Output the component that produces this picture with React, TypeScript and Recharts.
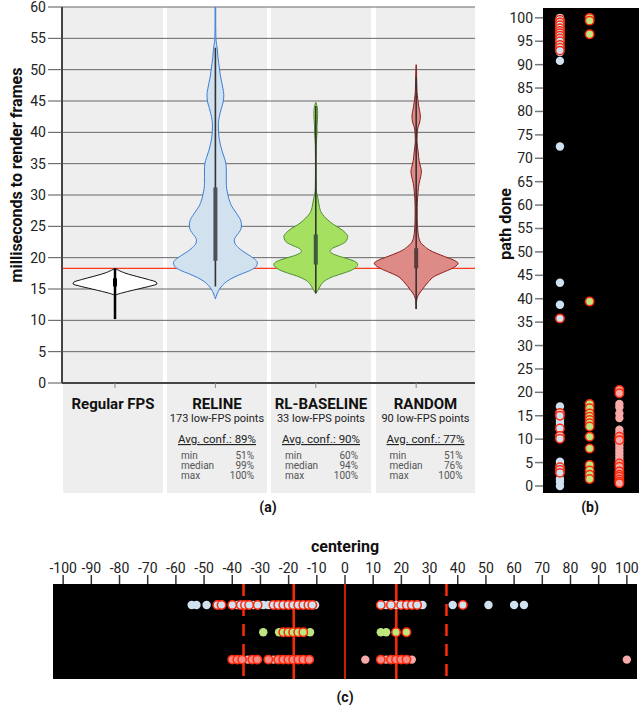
import React from "react";
import {
  ComposedChart,
  Area,
  Line,
  XAxis,
  YAxis,
  CartesianGrid,
  ScatterChart,
  Scatter,
  ReferenceLine,
} from "recharts";

// ---- (a) frame render times ----
const CATEGORIES = ["Regular FPS", "RELINE", "RL-BASELINE", "RANDOM"];
const LOW_FPS_POINTS = [null, 173, 33, 90];
const AVG_CONF = [null, 89, 90, 77];
const MIN_CONF = [null, 51, 60, 51];
const MEDIAN_CONF = [null, 99, 94, 76];
const MAX_CONF = [null, 100, 100, 100];
const MS_TICKS = [0, 5, 10, 15, 20, 25, 30, 35, 40, 45, 50, 55, 60];
const REGULAR_FPS_LIMIT = 18.3;

// violin outlines: [ms, relative density]
const VIOLIN_REGULAR = [
  [14.0, 0], [14.2, 0.08], [14.6, 0.3], [15.0, 0.55], [15.5, 0.86], [15.8, 1.0],
  [16.1, 0.98], [16.5, 0.8], [17.0, 0.52], [17.5, 0.26], [18.0, 0.08], [18.3, 0],
];
const VIOLIN_RELINE = [
  [13.4, 0], [14.2, 0.04], [15.0, 0.1], [15.6, 0.17], [16.2, 0.27], [16.8, 0.42],
  [17.4, 0.62], [18.0, 0.84], [18.6, 0.97], [19.2, 1.0], [19.8, 0.93], [20.4, 0.8],
  [21.0, 0.66], [21.6, 0.55], [22.2, 0.47], [22.8, 0.45], [23.4, 0.49], [24.0, 0.56],
  [24.6, 0.61], [25.2, 0.62], [25.8, 0.61], [26.4, 0.57], [27.0, 0.51], [27.6, 0.45],
  [28.2, 0.39], [28.8, 0.35], [29.4, 0.32], [30.0, 0.3], [31.0, 0.27], [32.0, 0.26],
  [33.0, 0.26], [34.0, 0.26], [35.0, 0.25], [36.0, 0.21], [37.0, 0.16], [38.0, 0.12],
  [39.0, 0.09], [40.0, 0.075], [41.0, 0.07], [42.0, 0.08], [43.0, 0.11], [44.0, 0.15],
  [45.0, 0.19], [46.0, 0.2], [47.0, 0.18], [48.0, 0.15], [49.0, 0.12], [50.0, 0.1],
  [51.0, 0.08], [52.0, 0.06], [53.0, 0.05], [54.0, 0.03], [55.0, 0.012], [57.0, 0.008],
  [60.0, 0.008],
];
const VIOLIN_RLBASE = [
  [14.3, 0], [14.8, 0.05], [15.4, 0.1], [15.9, 0.15], [16.5, 0.26], [17.0, 0.42],
  [17.5, 0.65], [18.0, 0.85], [18.6, 0.98], [18.9, 1.0], [19.4, 0.93], [19.9, 0.72],
  [20.4, 0.48], [21.0, 0.34], [21.5, 0.4], [22.0, 0.57], [22.6, 0.72], [23.4, 0.76],
  [24.0, 0.7], [24.7, 0.57], [25.3, 0.42], [26.0, 0.29], [26.6, 0.2], [27.1, 0.14],
  [28.0, 0.09], [28.7, 0.07], [29.5, 0.05], [30.0, 0.03], [31.0, 0.012], [33.0, 0.008],
  [36.0, 0.008], [38.0, 0.012], [39.0, 0.02], [40.0, 0.03], [41.0, 0.03], [42.0, 0.04],
  [43.0, 0.045], [44.0, 0.035], [44.5, 0.015], [44.8, 0],
];
const VIOLIN_RANDOM = [
  [11.8, 0], [13.2, 0.012], [14.0, 0.05], [14.7, 0.12], [15.4, 0.2], [16.2, 0.3],
  [17.0, 0.43], [17.6, 0.62], [18.3, 0.86], [18.8, 0.97], [19.1, 1.0], [19.6, 0.9],
  [20.2, 0.67], [20.7, 0.48], [21.2, 0.32], [21.8, 0.2], [22.3, 0.12], [23.0, 0.07],
  [23.9, 0.045], [25.0, 0.03], [26.6, 0.025], [28.0, 0.025], [29.2, 0.03], [30.5, 0.045],
  [31.9, 0.07], [33.0, 0.11], [33.8, 0.125], [34.6, 0.1], [35.5, 0.07], [36.7, 0.05],
  [37.8, 0.03], [38.8, 0.02], [39.7, 0.025], [40.7, 0.04], [41.5, 0.08], [42.6, 0.1],
  [43.5, 0.08], [44.2, 0.06], [45.2, 0.04], [46.5, 0.02], [48.4, 0.012], [50.0, 0.008],
  [50.8, 0],
];
const WHISKER_LOW = [10.2, 15.4, 14.3, 11.8];
const WHISKER_HIGH = [18.3, 53.5, 44.2, 48.8];
const BOX_LOW = [15.4, 19.5, 18.9, 18.3];
const BOX_HIGH = [16.7, 31.2, 23.7, 21.5];

// ---- (b) path done ----
const PATH_TICKS = [0, 5, 10, 15, 20, 25, 30, 35, 40, 45, 50, 55, 60, 65, 70, 75, 80, 85, 90, 95, 100];
const PATH_RELINE = [100, 94.7, 92.7, 90.8, 72.5, 43.4, 38.7, 17.0, 14.2, 13.5, 12.9, 5.2, 4.6, 1.5, 0.9, 0];
const PATH_RELINE_LOW = [99.6, 99.0, 98.4, 97.8, 97.2, 96.7, 96.2, 95.6, 95.0, 94.2, 93.6, 93.0, 35.8, 15.6, 15.0, 12.3, 10.7, 10.1, 4.0, 3.4, 2.8];
const PATH_RLBASE_LOW = [100, 99.4, 96.5, 39.4, 17.5, 16.6, 15.5, 14.8, 14.1, 13.4, 12.7, 10.5, 8.0, 4.5, 3.3, 2.4, 1.5];
const PATH_RANDOM = [17.5, 16.8, 15.5, 14.5, 12.0, 11.3, 9.1, 8.4, 7.7, 7.0, 6.3, 5.6];
const PATH_RANDOM_LOW = [20.5, 19.8, 10.5, 9.8, 4.8, 4.1, 3.1, 2.4, 2.0, 1.4, 0.9, 0.6];

// ---- (c) centering ----
const CENTER_TICKS = [-100, -90, -80, -70, -60, -50, -40, -30, -20, -10, 0, 10, 20, 30, 40, 50, 60, 70, 80, 90, 100];
const CENTER_LIMITS = [-18.2, 18.2];
const CENTER_OUTER = [-36, 36];
const CENTER_RELINE = [-54.4, -52.7, -49.1, -38.2, -32.5, -29.0, -27.2, -10.6, 14.6, 18.1, 27.5, 38.2, 50.9, 60.0, 63.5];
const CENTER_RELINE_LOW = [-45.3, -43.8, -40.0, -37.0, -35.5, -34.0, -31.0, -25.4, -23.7, -21.9, -20.1, -18.4, -16.6, -14.8, -13.0, -11.6, 12.7, 16.3, 19.9, 21.9, 23.7, 25.6, 41.8];
const CENTER_RLBASE = [-29.0, -23.4, -12.4, 12.7, 14.6];
const CENTER_RLBASE_LOW = [-21.9, -20.1, -18.4, -16.6, -14.8, 18.1, 21.8];
const CENTER_RANDOM = [-34.5, -25.4, 7.2, 14.6, 23.7, 100];
const CENTER_RANDOM_LOW = [-40.0, -38.2, -36.5, -32.9, -31.1, -27.2, -23.7, -21.9, -20.1, -18.4, -16.6, -14.8, -12.7, 12.7, 16.3, 18.1, 19.9, 21.8];

const BLUE = "#cfe2f1";
const GREEN = "#bde680";
const PINK = "#f7aaa8";
const RED = "#ff2a0a";
const VIOLIN_FILL = ["#ffffff", "#d1e1ee", "#a5e061", "#de8a86"];
const VIOLIN_STROKE = ["#111111", "#3d7dd8", "#4f8d2f", "#8b1e1e"];
const BOX_COLOR = ["#000000", "#4a535c", "#3f5a3c", "#5a3c3c"];

const BANDS = [[63, 163], [167, 267], [271, 371], [376, 475]];
const HALF = 0.418; // widest violin half-width, in column units

const violin = (shape: number[][], col: number) =>
  shape.map(([ms, d]) => ({ ms, span: [col - d * HALF, col + d * HALF] }));

function CategoryTick({ payload }: any) {
  const i = Math.round(payload.value);
  const cx = (BANDS[i][0] + BANDS[i][1]) / 2;
  const rows: [string, number | null][] = [
    ["min", MIN_CONF[i]],
    ["median", MEDIAN_CONF[i]],
    ["max", MAX_CONF[i]],
  ];
  return (
    <g>
      <text x={cx} y={409} textAnchor="middle" fontSize={15} fontWeight={700} fill="#111">
        {CATEGORIES[i]}
      </text>
      {LOW_FPS_POINTS[i] != null && (
        <>
          <text x={cx} y={421.5} textAnchor="middle" fontSize={11} fill="#222">
            {`${LOW_FPS_POINTS[i]} low-FPS points`}
          </text>
          <text x={cx} y={443} textAnchor="middle" fontSize={11.5} fill="#222" style={{ textDecoration: "underline" }}>
            {`Avg. conf.: ${AVG_CONF[i]}%`}
          </text>
          {rows.map(([name, v], k) => (
            <g key={name}>
              <text x={cx - 36} y={459 + k * 10} fontSize={10} fill="#555">{name}</text>
              <text x={cx + 37} y={459 + k * 10} fontSize={10} fill="#555" textAnchor="end">{`${v}%`}</text>
            </g>
          ))}
        </>
      )}
    </g>
  );
}

const dot = (fill: string, stroke?: string) => (p: any) => (
  <circle cx={p.cx} cy={p.cy} r={4.2} fill={fill} stroke={stroke ?? "none"} strokeWidth={1.5} />
);

const title: React.CSSProperties = {
  position: "absolute",
  fontWeight: 700,
  fontSize: 16,
  whiteSpace: "nowrap",
  color: "#111",
};

export default function App() {
  const violins = [VIOLIN_REGULAR, VIOLIN_RELINE, VIOLIN_RLBASE, VIOLIN_RANDOM];
  return (
    <div style={{ position: "absolute", left: 0, top: 0, width: 639, height: 710, background: "#fff", fontFamily: "Roboto, 'Noto Sans', sans-serif" }}>
      {BANDS.map(([a, b]) => (
        <div key={a} style={{ position: "absolute", left: a, top: 7, width: b - a, height: 486, background: "#eeeeee" }} />
      ))}

      <div style={{ position: "absolute", left: 0, top: 0 }}>
        <ComposedChart width={480} height={500} layout="vertical" margin={{ top: 7, right: 5, bottom: 0, left: 0 }}>
          <CartesianGrid vertical={false} stroke="#666" />
          <XAxis
            type="number"
            domain={[-0.528, 3.586]}
            allowDataOverflow
            ticks={[0, 1, 2, 3]}
            interval={0}
            height={117}
            axisLine={{ stroke: "#444", strokeWidth: 2 }}
            tickLine={{ stroke: "#888" }}
            tickSize={5}
            tick={<CategoryTick />}
          />
          <YAxis
            type="number"
            dataKey="ms"
            domain={[0, 60]}
            reversed
            allowDataOverflow
            ticks={MS_TICKS}
            interval={0}
            width={62}
            tickSize={14}
            tickMargin={2}
            axisLine={{ stroke: "#444", strokeWidth: 2 }}
            tickLine={{ stroke: "#555" }}
            tick={{ fill: "#222", fontSize: 14 }}
          />
          <Area
            data={[
              { ms: REGULAR_FPS_LIMIT - 0.11, span: [-0.528, 3.586] },
              { ms: REGULAR_FPS_LIMIT + 0.11, span: [-0.528, 3.586] },
            ]}
            dataKey="span"
            type="linear"
            fill="#ff3b1f"
            fillOpacity={1}
            stroke="none"
            isAnimationActive={false}
            activeDot={false}
          />
          {violins.map((shape, i) => (
            <Area
              key={`v${i}`}
              data={violin(shape, i)}
              dataKey="span"
              type="monotone"
              fill={VIOLIN_FILL[i]}
              fillOpacity={1}
              stroke={VIOLIN_STROKE[i]}
              strokeWidth={1}
              isAnimationActive={false}
              activeDot={false}
            />
          ))}
          {CATEGORIES.map((c, i) => (
            <Line
              key={`w${i}`}
              data={[{ ms: WHISKER_LOW[i], x: i }, { ms: WHISKER_HIGH[i], x: i }]}
              dataKey="x"
              stroke={i === 0 ? "#000" : "#333"}
              strokeWidth={i === 0 ? 2.5 : 1.6}
              dot={false}
              activeDot={false}
              isAnimationActive={false}
            />
          ))}
          {CATEGORIES.map((c, i) => (
            <Line
              key={`b${i}`}
              data={[{ ms: BOX_LOW[i], x: i }, { ms: BOX_HIGH[i], x: i }]}
              dataKey="x"
              stroke={BOX_COLOR[i]}
              strokeWidth={4}
              dot={false}
              activeDot={false}
              isAnimationActive={false}
            />
          ))}
        </ComposedChart>
      </div>

      <div style={{ position: "absolute", left: 490, top: 0 }}>
        <ScatterChart width={149} height={520} margin={{ top: 8, right: 0, bottom: 27, left: 0 }}>
          <CartesianGrid fill="#000" stroke="none" horizontal={false} vertical={false} />
          <XAxis type="number" dataKey="col" domain={[-0.57, 2.66]} allowDataOverflow hide height={0} />
          <YAxis
            type="number"
            dataKey="v"
            domain={[-1.5, 102.1]}
            allowDataOverflow
            ticks={PATH_TICKS}
            interval={0}
            width={53}
            tickSize={8}
            tickMargin={2}
            axisLine={false}
            tickLine={{ stroke: "#777", strokeWidth: 1.5 }}
            tick={{ fill: "#222", fontSize: 14 }}
          />
          <Scatter data={PATH_RELINE.map((v) => ({ col: 0, v }))} shape={dot(BLUE)} isAnimationActive={false} />
          <Scatter data={PATH_RELINE_LOW.map((v) => ({ col: 0, v }))} shape={dot(BLUE, RED)} isAnimationActive={false} />
          <Scatter data={PATH_RLBASE_LOW.map((v) => ({ col: 1, v }))} shape={dot(GREEN, RED)} isAnimationActive={false} />
          <Scatter data={PATH_RANDOM.map((v) => ({ col: 2, v }))} shape={dot(PINK)} isAnimationActive={false} />
          <Scatter data={PATH_RANDOM_LOW.map((v) => ({ col: 2, v }))} shape={dot(PINK, RED)} isAnimationActive={false} />
        </ScatterChart>
      </div>

      <div style={{ position: "absolute", left: 0, top: 530 }}>
        <ScatterChart width={639} height={149} margin={{ top: 0, right: 2, bottom: 0, left: 53 }}>
          <CartesianGrid fill="#000" stroke="none" horizontal={false} vertical={false} />
          <XAxis
            type="number"
            dataKey="c"
            orientation="top"
            domain={[-103.6, 103.6]}
            allowDataOverflow
            ticks={CENTER_TICKS}
            interval={0}
            height={54}
            tickSize={9}
            tickMargin={2}
            axisLine={false}
            tickLine={{ stroke: "#333", strokeWidth: 1.5 }}
            tick={{ fill: "#222", fontSize: 14 }}
          />
          <YAxis type="number" dataKey="row" domain={[-0.77, 2.71]} reversed hide width={0} />
          <ReferenceLine x={0} stroke="#c81e00" strokeWidth={2} />
          {CENTER_LIMITS.map((x) => (
            <ReferenceLine key={`l${x}`} x={x} stroke={RED} strokeWidth={2.5} />
          ))}
          {CENTER_OUTER.map((x) => (
            <ReferenceLine key={`o${x}`} x={x} stroke={RED} strokeWidth={2.5} strokeDasharray="12 8" />
          ))}
          <Scatter data={CENTER_RELINE.map((c) => ({ c, row: 0 }))} shape={dot(BLUE)} isAnimationActive={false} />
          <Scatter data={CENTER_RELINE_LOW.map((c) => ({ c, row: 0 }))} shape={dot(BLUE, RED)} isAnimationActive={false} />
          <Scatter data={CENTER_RLBASE.map((c) => ({ c, row: 1 }))} shape={dot(GREEN)} isAnimationActive={false} />
          <Scatter data={CENTER_RLBASE_LOW.map((c) => ({ c, row: 1 }))} shape={dot(GREEN, RED)} isAnimationActive={false} />
          <Scatter data={CENTER_RANDOM.map((c) => ({ c, row: 2 }))} shape={dot(PINK)} isAnimationActive={false} />
          <Scatter data={CENTER_RANDOM_LOW.map((c) => ({ c, row: 2 }))} shape={dot("#f48a86", RED)} isAnimationActive={false} />
        </ScatterChart>
      </div>

      <div style={{ ...title, left: 16, top: 175, transform: "translate(-50%, -50%) rotate(-90deg)" }}>
        milliseconds to render frames
      </div>
      <div style={{ ...title, left: 505, top: 224, transform: "translate(-50%, -50%) rotate(-90deg)" }}>path done</div>
      <div style={{ ...title, left: 345, top: 546, transform: "translate(-50%, -50%)" }}>centering</div>
      <div style={{ ...title, fontSize: 14, left: 268, top: 507, transform: "translate(-50%, -50%)" }}>(a)</div>
      <div style={{ ...title, fontSize: 14, left: 590, top: 507, transform: "translate(-50%, -50%)" }}>(b)</div>
      <div style={{ ...title, fontSize: 14, left: 345, top: 697, transform: "translate(-50%, -50%)" }}>(c)</div>
    </div>
  );
}
